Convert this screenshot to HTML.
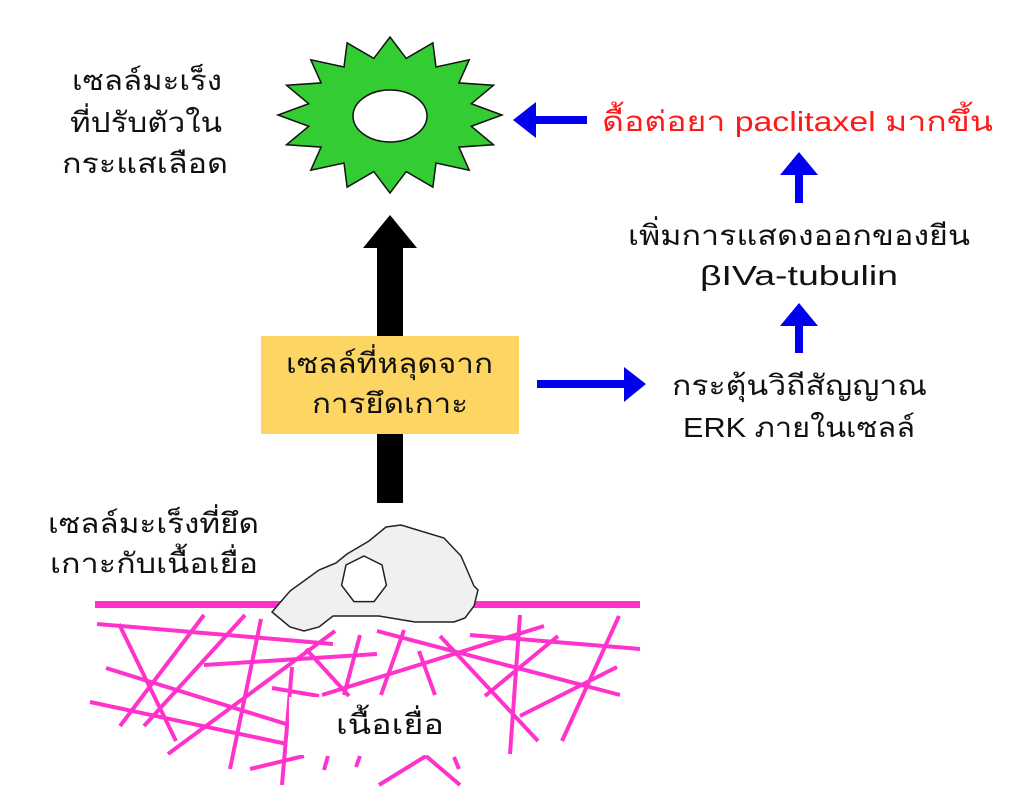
<!DOCTYPE html>
<html><head><meta charset="utf-8"><style>
html,body{margin:0;padding:0;background:#fff;width:1024px;height:808px;overflow:hidden}
svg text{font-family:"Liberation Sans","DejaVu Sans","Noto Sans CJK SC",sans-serif;font-size:28px;fill:#111}
</style></head><body>
<svg width="1024" height="808" viewBox="0 0 1024 808" xmlns="http://www.w3.org/2000/svg">
<!-- star -->
<polygon id="star" fill="#33cc33" stroke="#111" stroke-width="1.5" points=""/>
<ellipse cx="390" cy="116" rx="37" ry="26" fill="#fff" stroke="#111" stroke-width="1.5"/>

<!-- top-left text -->
<text x="72" y="90" textLength="150" lengthAdjust="spacingAndGlyphs">เซลล์มะเร็ง</text>
<text x="70" y="132" textLength="152" lengthAdjust="spacingAndGlyphs">ที่ปรับตัวใน</text>
<text x="62" y="173" textLength="166" lengthAdjust="spacingAndGlyphs">กระแสเลือด</text>

<!-- black arrow -->
<rect x="377" y="246" width="26" height="257" fill="#000"/>
<polygon points="363,248 390,215 417,248" fill="#000"/>

<!-- yellow box -->
<rect x="261" y="336" width="258" height="98" fill="#fcd563"/>
<text x="286" y="373" textLength="207" lengthAdjust="spacingAndGlyphs">เซลล์ที่หลุดจาก</text>
<text x="312" y="413" textLength="156" lengthAdjust="spacingAndGlyphs">การยึดเกาะ</text>

<!-- blue arrows -->
<rect x="537" y="380" width="90" height="8" fill="#0000ee"/>
<polygon points="624,367 646,384 624,402" fill="#0000ee"/>
<rect x="795" y="322" width="8" height="31" fill="#0000ee"/>
<polygon points="780,326 799,303 818,326" fill="#0000ee"/>
<rect x="795" y="172" width="8" height="31" fill="#0000ee"/>
<polygon points="780,175 799,152 818,175" fill="#0000ee"/>
<rect x="533" y="116" width="54" height="8" fill="#0000ee"/>
<polygon points="536,102 513,120 536,138" fill="#0000ee"/>

<!-- right texts -->
<text x="602" y="131" textLength="391" lengthAdjust="spacingAndGlyphs" style="fill:#ff1a1a">ดื้อต่อยา paclitaxel มากขึ้น</text>
<text x="628" y="245" textLength="342" lengthAdjust="spacingAndGlyphs">เพิ่มการแสดงออกของยีน</text>
<text x="700" y="285" textLength="198" lengthAdjust="spacingAndGlyphs">βIVa-tubulin</text>
<text x="672" y="395" textLength="255" lengthAdjust="spacingAndGlyphs">กระตุ้นวิถีสัญญาณ</text>
<text x="683" y="437" textLength="232" lengthAdjust="spacingAndGlyphs">ERK ภายในเซลล์</text>

<!-- bottom-left text -->
<text x="48" y="533" textLength="211" lengthAdjust="spacingAndGlyphs">เซลล์มะเร็งที่ยึด</text>
<text x="50" y="573" textLength="208" lengthAdjust="spacingAndGlyphs">เกาะกับเนื้อเยื่อ</text>

<!-- tissue -->
<g stroke="#ff33cc" stroke-width="4" fill="none">
<line x1="97" y1="624" x2="333" y2="644"/>
<line x1="119" y1="624" x2="176" y2="741"/>
<line x1="204" y1="615" x2="120" y2="726"/>
<line x1="245" y1="615" x2="144" y2="726"/>
<line x1="261" y1="619" x2="230" y2="769"/>
<line x1="106" y1="668" x2="286" y2="724"/>
<line x1="90" y1="702" x2="287" y2="744"/>
<line x1="204" y1="665" x2="377" y2="654"/>
<line x1="335" y1="631" x2="168" y2="754"/>
<line x1="292" y1="667" x2="282" y2="785"/>
<line x1="306" y1="649" x2="349" y2="696"/>
<line x1="360" y1="635" x2="344" y2="695"/>
<line x1="272" y1="688" x2="319" y2="696"/>
<line x1="250" y1="769" x2="304" y2="756"/>
<line x1="328" y1="756" x2="324" y2="770"/>
<line x1="360" y1="756" x2="356" y2="767"/>
<line x1="404" y1="630" x2="381" y2="695"/>
<line x1="377" y1="631" x2="620" y2="695"/>
<line x1="322" y1="695" x2="544" y2="626"/>
<line x1="419" y1="651" x2="435" y2="695"/>
<line x1="440" y1="636" x2="538" y2="741"/>
<line x1="470" y1="635" x2="640" y2="649"/>
<line x1="558" y1="636" x2="485" y2="696"/>
<line x1="520" y1="615" x2="510" y2="754"/>
<line x1="619" y1="616" x2="562" y2="741"/>
<line x1="617" y1="667" x2="520" y2="716"/>
<line x1="379" y1="785" x2="426" y2="756"/>
<line x1="426" y1="756" x2="460" y2="785"/>
<line x1="454" y1="757" x2="459" y2="769"/>
</g>
<rect x="289" y="697" width="162" height="58" fill="#fff"/>
<text x="336" y="734" textLength="108" lengthAdjust="spacingAndGlyphs">เนื้อเยื่อ</text>
<rect x="95" y="601" width="545" height="7" fill="#ff33cc"/>

<!-- adherent cell -->
<polygon fill="#f0f0f0" stroke="#222" stroke-width="1.5" points="272,612 290,591 319,570 336,563 347,554 369,541 386,527 401,525 444,538 461,556 474,586 478,590 474,606 465,618 454,622 415,622 379,616 333,616 319,627 304,631 290,627"/>
<polygon id="nuc" fill="#fff" stroke="#222" stroke-width="1.5" points=""/>
</svg>
<script>
(function(){
var p=[];for(var k=0;k<32;k++){var a=-Math.PI/2+k*Math.PI/16;var r=(k%2==0)?1:0.74;p.push((390+112*r*Math.cos(a)).toFixed(1)+","+(115+78*r*Math.sin(a)).toFixed(1));}
document.getElementById('star').setAttribute('points',p.join(' '));
var q=[];for(var i=0;i<7;i++){var b=-Math.PI/2+i*2*Math.PI/7;q.push((364+23*Math.cos(b)).toFixed(1)+","+(580+24*Math.sin(b)).toFixed(1));}
document.getElementById('nuc').setAttribute('points',q.join(' '));
})();
</script>
</body></html>
